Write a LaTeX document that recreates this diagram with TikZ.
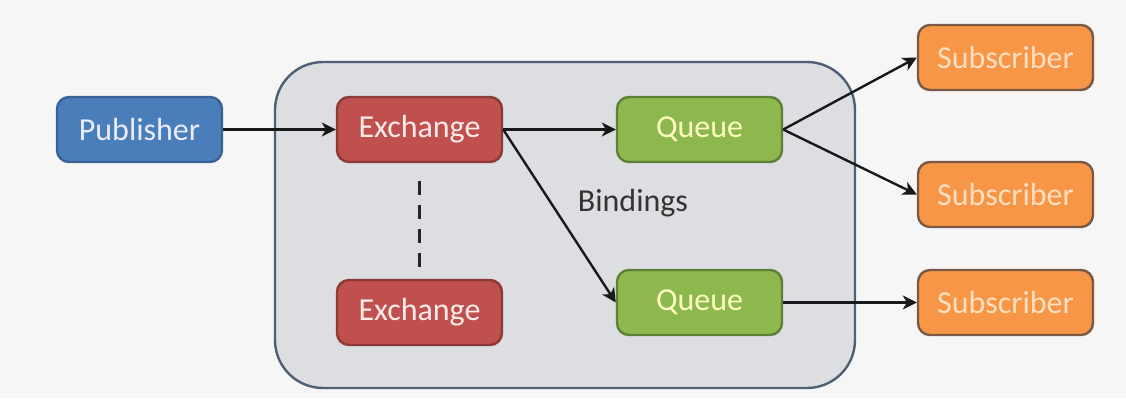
\documentclass[tikz,border=0pt]{standalone}
\usepackage{fontspec}
\setmainfont{Carlito}
\usetikzlibrary{arrows.meta}

\definecolor{pubblue}{HTML}{4A7EBB}
\definecolor{pubedge}{HTML}{3A6395}
\definecolor{exred}{HTML}{C0504D}
\definecolor{exedge}{HTML}{8C3A38}
\definecolor{qgreen}{HTML}{8DB84E}
\definecolor{qedge}{HTML}{5E7F36}
\definecolor{suborange}{HTML}{F79646}
\definecolor{subedge}{HTML}{7A5A44}
\definecolor{brokerfill}{HTML}{DDDEE1}
\definecolor{brokeredge}{HTML}{4E6073}

\begin{document}
\begin{tikzpicture}[x=0.5pt, y=-0.5pt,
    box/.style={rounded corners=6pt, line width=1.2pt, minimum height=32.5pt,
        minimum width=82.5pt, font=\fontsize{16}{19}\selectfont, inner sep=0pt},
    pub/.style={box, fill=pubblue, draw=pubedge, text=blue!8!white},
    exch/.style={box, fill=exred, draw=exedge, text=red!8!white},
    queue/.style={box, fill=qgreen, draw=qedge, text=yellow!25!white},
    sub/.style={box, fill=suborange, draw=subedge, text=orange!25!white, minimum width=87.5pt},
    link/.style={-{Stealth[length=7pt, width=7pt, inset=2pt]}, line width=1.2pt, black!90}]
    \fill[gray!7] (0,0) rectangle (1126,398);
    \useasboundingbox (0,0) rectangle (1126,398);
    \draw[fill=brokerfill, draw=brokeredge, line width=1.2pt, rounded corners=24pt] (275,62) rectangle (855,388);

    \node[pub] (publisher) at (139.5,129.5) {Publisher};
    \node[exch] (ex1) at (419.5,129.5) {Exchange};
    \node[exch] (ex2) at (419.5,312.5) {Exchange};
    \node[queue] (q1) at (699.5,129.5) {Queue};
    \node[queue] (q2) at (699.5,302.5) {Queue};
    \node[sub] (s1) at (1005.5,57.5) {Subscriber};
    \node[sub] (s2) at (1005.5,194.5) {Subscriber};
    \node[sub] (s3) at (1005.5,302.5) {Subscriber};
    \node[font=\fontsize{16}{19}\selectfont, text=black!80] (bind) at (633,203) {Bindings};

    \draw[link] (publisher) -- (ex1);
    \draw[link] (ex1) -- (q1);
    \draw[link] (ex1.east) -- (q2.west);
    \draw[link] (q1.east) -- (s1.west);
    \draw[link] (q1.east) -- (s2.west);
    \draw[link] (q2) -- (s3);
    \draw[line width=1.6pt, dash pattern=on 7pt off 5pt, black!85] ([yshift=-9pt]ex1.south) -- ([yshift=6pt]ex2.north);
\end{tikzpicture}
\end{document}
